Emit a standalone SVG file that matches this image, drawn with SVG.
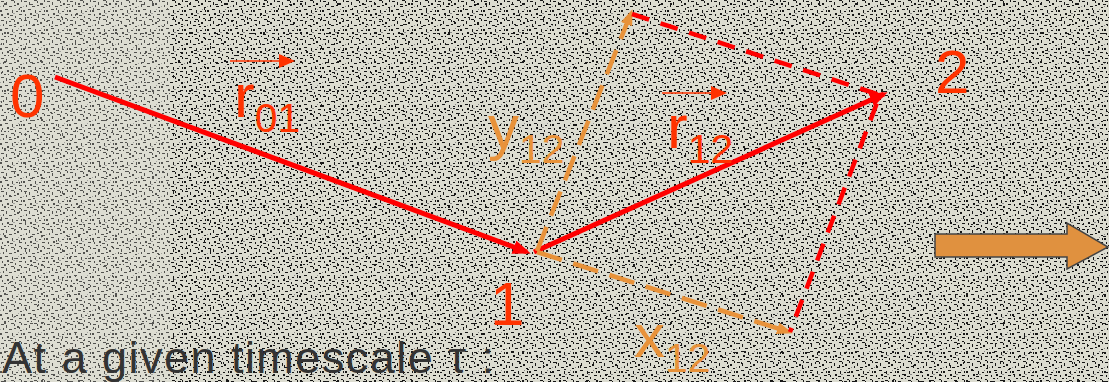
<svg xmlns="http://www.w3.org/2000/svg" width="1109" height="382" viewBox="0 0 1109 382">
<style>
.lbl{font-family:"Liberation Sans",Arial,sans-serif;}
.red{fill:#ff3300;}
.org{fill:#e8923a;}
.node{font-size:62px;}
.main{font-size:62px;}
.sub{font-size:41px;}
.vec{stroke:#ff3300;stroke-width:1.5;fill:none;}
.solid{stroke:#ff0000;stroke-width:5;fill:none;}
.rdash{stroke:#ff0000;stroke-width:4.5;fill:none;stroke-dasharray:18 12;}
.odash{stroke:#e8923a;stroke-width:4.5;fill:none;stroke-dasharray:26 12;}
</style>
<defs>
<pattern id="n1" width="23" height="19" patternUnits="userSpaceOnUse">
<rect width="23" height="19" fill="#dcdcd0"/>
<g fill="#141414">
<rect x="1" y="1" width="3" height="1"/><rect x="6" y="2" width="1" height="3"/><rect x="11" y="0" width="3" height="1"/>
<rect x="17" y="3" width="2" height="2"/><rect x="3" y="5" width="1" height="2"/><rect x="9" y="6" width="3" height="1"/>
<rect x="14" y="5" width="2" height="1"/><rect x="20" y="7" width="2" height="1"/><rect x="0" y="10" width="2" height="2"/>
<rect x="5" y="9" width="3" height="1"/><rect x="12" y="10" width="1" height="3"/><rect x="16" y="11" width="2" height="1"/>
<rect x="2" y="14" width="1" height="2"/><rect x="7" y="13" width="2" height="2"/><rect x="10" y="15" width="3" height="1"/>
<rect x="15" y="16" width="1" height="2"/><rect x="19" y="14" width="3" height="1"/><rect x="4" y="17" width="2" height="1"/>
<rect x="21" y="0" width="1" height="2"/><rect x="8" y="17" width="1" height="1"/><rect x="19" y="18" width="2" height="1"/>
<rect x="14" y="1" width="1" height="2"/><rect x="21" y="10" width="1" height="2"/>
</g>
<g fill="#888">
<rect x="13" y="13" width="2" height="1"/><rect x="0" y="6" width="1" height="1"/><rect x="18" y="9" width="1" height="1"/>
</g>
</pattern>
<pattern id="n2" width="37" height="29" patternUnits="userSpaceOnUse">
<g fill="#1a1a1a">
<rect x="4" y="3" width="2" height="2"/><rect x="19" y="8" width="1" height="2"/><rect x="30" y="4" width="3" height="1"/>
<rect x="9" y="21" width="2" height="1"/><rect x="25" y="17" width="1" height="3"/><rect x="33" y="24" width="2" height="1"/>
<rect x="14" y="26" width="2" height="1"/><rect x="1" y="14" width="1" height="2"/>
</g>
</pattern>
<marker id="ahR" markerUnits="userSpaceOnUse" markerWidth="20" markerHeight="16" refX="14" refY="7" orient="auto">
<path d="M0,0 L18,7 L0,14 z" fill="#ff0000"/>
</marker>
<marker id="ahO" markerUnits="userSpaceOnUse" markerWidth="18" markerHeight="14" refX="12" refY="6" orient="auto">
<path d="M0,0 L16,6 L0,12 z" fill="#e8923a"/>
</marker>
<marker id="ahV" markerUnits="userSpaceOnUse" markerWidth="16" markerHeight="14" refX="14" refY="7" orient="auto">
<path d="M0,0 L16,7 L0,14 z" fill="#ff3300"/>
</marker>
</defs>
<rect width="1109" height="382" fill="url(#n1)"/>
<rect width="1109" height="382" fill="url(#n2)"/>
<rect x="0" y="0" width="170" height="382" fill="#e0e0d6" opacity="0.3"/>

<g id="connectors">
<line class="solid" x1="55" y1="77" x2="527" y2="252" marker-end="url(#ahR)"/>
<line class="solid" x1="534" y1="252" x2="884" y2="94" marker-end="url(#ahR)"/>
<line class="odash" x1="537" y1="251" x2="631" y2="13" marker-end="url(#ahO)"/>
<line class="odash" x1="537" y1="252" x2="789" y2="332" marker-end="url(#ahO)"/>
<polyline class="rdash" points="632,14 880,95 790,332"/>
<line class="vec" x1="230" y1="61" x2="293" y2="61" marker-end="url(#ahV)"/>
<line class="vec" x1="662" y1="93" x2="725" y2="93" marker-end="url(#ahV)"/>
</g>

<g id="node-0"><text class="lbl red node" x="10" y="117">0</text></g>
<g id="node-1"><text class="lbl red node" x="490" y="325">1</text></g>
<g id="node-2"><text class="lbl red node" x="935" y="93">2</text></g>

<g id="label-r01"><text class="lbl red" x="234" y="117"><tspan class="main">r</tspan><tspan class="sub" dy="15">01</tspan></text></g>
<g id="label-r12"><text class="lbl red" x="667" y="148"><tspan class="main">r</tspan><tspan class="sub" dy="15">12</tspan></text></g>
<g id="label-y12"><text class="lbl org" x="488" y="148"><tspan class="main">y</tspan><tspan class="sub" dy="15">12</tspan></text></g>
<g id="label-x12"><text class="lbl org" x="634" y="357"><tspan class="main">x</tspan><tspan class="sub" dy="15">12</tspan></text></g>

<g id="block-arrow">
<path d="M935,234 L1067,234 L1067,223 L1108,247 L1067,269 L1067,257 L935,257 z" fill="#e0913f" stroke="#444" stroke-width="1.5"/>
</g>

<g id="caption"><text class="lbl" x="2" y="373" font-size="45" fill="#333" textLength="492" lengthAdjust="spacing">At a given timescale τ :</text></g>
</svg>
